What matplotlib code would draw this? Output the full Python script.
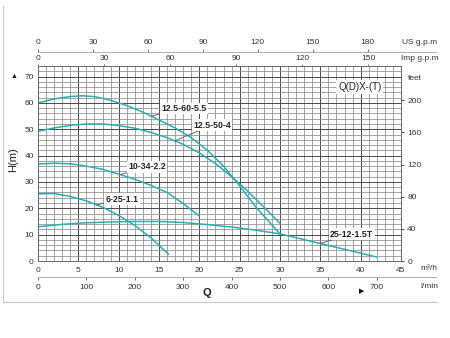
import matplotlib
matplotlib.use('Agg')
import matplotlib.pyplot as plt
import matplotlib.transforms as mtransforms
from matplotlib.lines import Line2D
from matplotlib.ticker import MultipleLocator

plt.rcParams['font.family'] = ['Liberation Sans', 'DejaVu Sans']

# pump performance curves, flow Q in m3/h, head H in m
q_60 = [0, 2, 4, 5.5, 7, 9, 11, 13, 15, 17, 19, 21, 23, 25, 27, 30]
h_60 = [60, 61.5, 62.4, 62.7, 62.4, 61, 59, 56.5, 53.5, 50.5, 46.8, 42, 36, 28.5, 20.5, 10.3]

q_50 = [0, 2, 4, 6, 8, 10, 12, 14, 16, 18, 20, 22, 24, 26, 28, 30]
h_50 = [49.2, 50.5, 51.5, 52, 52, 51.4, 50.4, 48.8, 46.8, 44.3, 41, 37, 32, 26.5, 20.5, 14.3]

q_34 = [0, 2, 4, 6, 8, 10, 12, 14, 16, 18, 20]
h_34 = [36.8, 37.1, 36.9, 36, 34.8, 33, 31, 28.7, 26, 21.8, 17.1]

q_25 = [0, 2, 4, 6, 8, 10, 12, 14, 16.2]
h_25 = [25.5, 25.6, 24.5, 22.8, 20.4, 17.3, 13.5, 8.8, 2.5]

q_12 = [0, 3, 6, 9, 12, 15, 18, 21, 24, 27, 30, 33, 36, 39, 42]
h_12 = [13, 13.9, 14.5, 14.8, 15, 15, 14.6, 13.8, 12.9, 11.7, 10.3, 8.1, 5.9, 3.7, 1.5]

names = ['12.5-60-5.5', '12.5-50-4', '10-34-2.2', '6-25-1.1', '25-12-1.5T']
flows = [q_60, q_50, q_34, q_25, q_12]
heads = [h_60, h_50, h_34, h_25, h_12]
label_pos = [(18.1, 57.9), (21.6, 51.6), (13.5, 35.7), (10.4, 23.5), (38.9, 10.2)]
leader_to = [(14.0, 55.0), (16.9, 45.5), (10.2, 32.8), (7.3, 21.3), (35.0, 6.7)]

us_ticks = [0, 30, 60, 90, 120, 150, 180]
imp_ticks = [0, 30, 60, 90, 120, 150]
lmin_ticks = [0, 100, 200, 300, 400, 500, 600, 700]
feet_ticks = [0, 40, 80, 120, 160, 200]

W, H = 450, 338
fig = plt.figure(figsize=(W / 100, H / 100), dpi=100)
ax = fig.add_axes([38 / W, 1 - 261 / H, 363 / W, 195 / H])

ax.set_xlim(0, 45)
ax.set_ylim(0, 74)
ax.xaxis.set_major_locator(MultipleLocator(5))
ax.xaxis.set_minor_locator(MultipleLocator(1))
ax.yaxis.set_major_locator(MultipleLocator(10))
ax.yaxis.set_minor_locator(MultipleLocator(2))
ax.set_yticks(range(0, 71, 10))
ax.grid(which='minor', color='#8c8c8c', lw=0.55)
ax.grid(which='major', color='#4a4a4a', lw=0.7)
ax.set_axisbelow(True)
for sp in ax.spines.values():
    sp.set_color('#6a6a6a')
    sp.set_linewidth(0.7)
ax.tick_params(which='both', length=0, labelsize=6, colors='#333333', pad=3)
ax.tick_params(axis='x', pad=4)

teal = '#2aaeb2'
for name, q, h, lp, lt in zip(names, flows, heads, label_pos, leader_to):
    ax.plot(q, h, color=teal, lw=1.1, solid_capstyle='round')
    ax.annotate(name, xy=lt, xytext=lp, fontsize=6.3, fontweight='bold',
                ha='center', va='center', color='#222222',
                bbox=dict(boxstyle='square,pad=0.15', fc='white', ec='none'),
                arrowprops=dict(arrowstyle='-', color='#555555', lw=0.6,
                                shrinkA=0, shrinkB=0))

ax.text(39.9, 66, 'Q(D)X-(T)', fontsize=7, ha='center', va='center',
        color='#222222',
        bbox=dict(boxstyle='square,pad=0.2', fc='white', ec='none'))

# feet scale on the right
axf = ax.twinx()
axf.set_ylim(0, 74 * 3.28084)
axf.set_yticks(feet_ticks)
axf.tick_params(length=2.5, width=0.6, labelsize=6, colors='#333333', pad=2)
for sp in axf.spines.values():
    sp.set_visible(False)

# flow scales in gallons per minute above the grid
us = ax.secondary_xaxis(1.072, functions=(lambda q: q / 0.227125, lambda g: g * 0.227125))
us.set_xticks(us_ticks)
us.tick_params(length=2, width=0.5, labelsize=6, colors='#333333', pad=2)
us.spines['top'].set_visible(False)

imp = ax.secondary_xaxis(1.0, functions=(lambda q: q / 0.272765, lambda g: g * 0.272765))
imp.set_xticks(imp_ticks)
imp.tick_params(length=1.5, width=0.5, labelsize=6, colors='#333333', pad=1.5)
imp.spines['top'].set_visible(False)

# litres per minute below the grid
lmin = ax.secondary_xaxis(-0.082, functions=(lambda q: q * 1000 / 60, lambda l: l * 60 / 1000))
lmin.set_xticks(lmin_ticks)
lmin.tick_params(length=2, width=0.5, labelsize=6, colors='#333333', pad=3)
lmin.spines['bottom'].set_visible(False)

blend = mtransforms.blended_transform_factory(ax.transData, ax.transAxes)
for yy in (1.072, -0.082):
    ax.plot([0, 49.3], [yy, yy], transform=blend, color='#b0b0b0', lw=0.7, clip_on=False)

# outer frame lines
fig.add_artist(Line2D([3 / W, 3 / W], [1 - 6 / H, 1 - 302 / H], color='#c8c8c8', lw=0.8))
fig.add_artist(Line2D([3 / W, 437 / W], [1 - 302 / H, 1 - 302 / H], color='#c8c8c8', lw=0.8))

def fig_text(x, y, s, **kw):
    fig.text(x / W, 1 - y / H, s, va='center', **kw)

fig_text(402, 43, 'US g.p.m', fontsize=6, color='#333333')
fig_text(401, 59, 'Imp g.p.m', fontsize=6, color='#333333')
fig_text(408, 78, 'feet', fontsize=6, color='#333333')
fig_text(420, 269, 'm³/h', fontsize=6, color='#333333')
fig_text(420, 287, 'l/min', fontsize=6, color='#333333')
fig_text(207, 293, 'Q', fontsize=8, fontweight='bold', ha='center', color='#222222')
fig_text(362, 292, '▶', fontsize=5, ha='center', color='#111111')
fig_text(14, 76, '▲', fontsize=5, ha='center', color='#111111')
fig_text(13, 160, 'H(m)', fontsize=8, ha='center', rotation=90, color='#222222')

fig.savefig('out.png', dpi=100)
